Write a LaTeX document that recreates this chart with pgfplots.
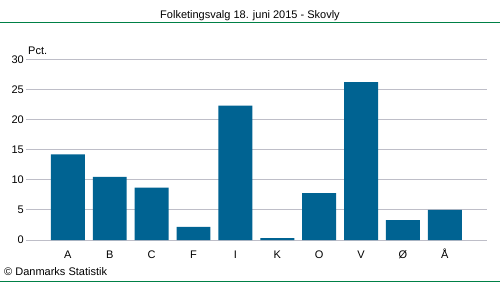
\documentclass[border=0pt]{standalone}
\usepackage{pgfplots}
\pgfplotsset{compat=1.18}
\usepackage{fontspec}
\setmainfont{Liberation Sans}
\definecolor{barblue}{RGB}{0,99,146}
\definecolor{gridgrey}{RGB}{190,190,200}
\definecolor{dstgreen}{RGB}{0,128,70}
\begin{document}
\begin{tikzpicture}
\useasboundingbox (0pt,0pt) rectangle (500pt,282pt);
\fill[white] (0pt,0pt) rectangle (500pt,282pt);
\draw[dstgreen,line width=1pt] (0pt,260pt) -- (500pt,260pt);
\draw[dstgreen,line width=1pt] (0pt,1pt) -- (500pt,1pt);
\node[font=\fontsize{11}{13}\selectfont] at (250pt,266.5pt) {Folketingsvalg 18. juni 2015 - Skovly};
\node[font=\fontsize{11}{13}\selectfont,anchor=west,inner sep=0pt] at (4pt,10.5pt) {© Danmarks Statistik};
\begin{axis}[
  at={(26pt,42pt)}, anchor=south west,
  scale only axis, width=460.7pt, height=180.7pt,
  xmin=-1, xmax=10, ymin=0, ymax=30,
  axis line style={draw=none},
  ymajorgrids, grid style={gridgrey, line width=0.8pt},
  major tick length=0pt,
  ytick={0,5,10,15,20,25,30},
  xtick={0,1,2,3,4,5,6,7,8,9},
  xticklabels={A,B,C,F,I,K,O,V,Ø,Å},
  /pgf/number format/assume math mode=true,
  tick label style={font=\fontsize{11}{13}\selectfont},
  yticklabel style={anchor=east, inner sep=0pt, xshift=-2pt},
  xticklabel style={anchor=base, inner sep=0pt, yshift=-18.5pt},
  clip=false,
]
\addplot[ybar, bar width=0.81, fill=barblue, draw=none, bar shift=0pt]
  coordinates {(0,14.2) (1,10.5) (2,8.7) (3,2.2) (4,22.3) (5,0.3) (6,7.8) (7,26.2) (8,3.3) (9,5.0)};
\node[anchor=south west, inner sep=0pt, font=\fontsize{11}{13}\selectfont] at (rel axis cs:0,1) [xshift=2pt, yshift=4.5pt] {Pct.};
\end{axis}
\end{tikzpicture}
\end{document}
